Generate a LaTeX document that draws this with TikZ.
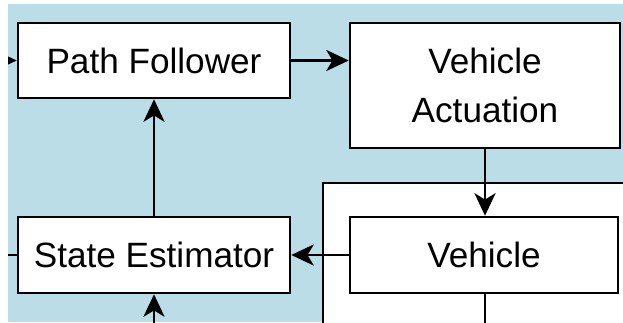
\documentclass[tikz,border=0pt]{standalone}
\usepackage{fontspec}
\setmainfont{Liberation Sans}
\usetikzlibrary{arrows.meta,positioning,calc}
\definecolor{bgc}{HTML}{BADDE8}

\begin{document}
\begin{tikzpicture}[x=0.025cm, y=-0.025cm,
  blockc/.style={draw=black, fill=white, line width=1.8pt, align=center,
    font=\fontsize{25}{35}\selectfont, inner sep=0pt},
  flowc/.style={line width=1.8pt, -{Stealth[length=16pt, width=15pt, inset=4.5pt]}},
  linec/.style={line width=1.8pt}]
  \useasboundingbox (0,0) rectangle (623,322);
  \clip (8,4) rectangle (623,322);
  \fill[bgc] (8,4) rectangle (623,322);
  % plant block, cut off by the frame
  \draw[linec, fill=white] (323,183) rectangle (680,380);
  \node[blockc, minimum width=6.8cm, minimum height=1.875cm] (follower) at (154,60.5) {Path Follower};
  \node[blockc, minimum width=6.75cm, minimum height=3.125cm] (actuation) at (485,85.5) {Vehicle\\Actuation};
  \node[blockc, minimum width=6.8cm, minimum height=1.9cm] (estimator) at (154,255) {State Estimator};
  \node[blockc, minimum width=6.7cm, minimum height=1.9cm] (vehicle) at (484,255) {Vehicle};
  \coordinate (refin) at (-40,60.5);
  \coordinate (estin) at (-40,255);
  \coordinate (meas) at (154,340);
  \coordinate (vout) at (485,340);
  \draw[flowc] (refin) -- (follower.west);
  \draw[flowc] (follower.east) -- (follower.east -| actuation.west);
  \draw[flowc] (actuation.south) -- (actuation.south |- vehicle.north);
  \draw[flowc] (vehicle.west) -- (estimator.east);
  \draw[flowc] (estimator.north) -- (follower.south);
  \draw[flowc] (meas) -- (estimator.south);
  \draw[linec] (estimator.west) -- (estin);
  \draw[linec] (vehicle.south -| vout) -- (vout);
\end{tikzpicture}
\end{document}
